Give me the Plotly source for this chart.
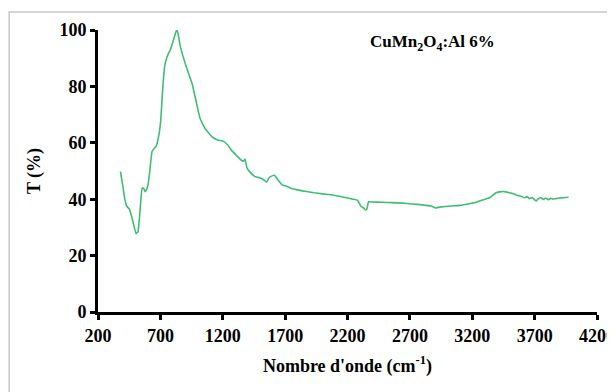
import plotly.graph_objects as go

wavenumber = [380, 398, 415, 430, 452, 475, 505, 521, 537, 553, 565, 577, 590, 601, 615, 633, 650, 665, 685, 703, 720, 734,
              750, 766, 780, 797, 812, 829, 840, 860, 900, 954, 990, 1018, 1060, 1112, 1160, 1206, 1240, 1269, 1310, 1347,
              1365, 1379, 1395, 1420, 1459, 1480, 1505, 1530, 1552, 1570, 1583, 1615, 1640, 1678, 1700, 1741, 1800, 1860,
              1930, 2000, 2086, 2160, 2244, 2281, 2306, 2330, 2344, 2355, 2369, 2400, 2480, 2557, 2640, 2715, 2800, 2870,
              2904, 2940, 3029, 3100, 3186, 3240, 3281, 3340, 3390, 3420, 3454, 3490, 3530, 3560, 3595, 3620, 3640, 3657,
              3680, 3700, 3714, 3730, 3751, 3770, 3790, 3810, 3830, 3847, 3870, 3900, 3930, 3972]
transmittance = [49.8, 45.0, 40.0, 37.5, 36.5, 33.0, 27.8, 28.5, 36.0, 43.8, 44.0, 42.7, 43.5, 45.0, 50.0, 56.9, 58.0, 58.7, 62.0, 68.0, 80.0, 87.0,
                 90.0, 91.8, 93.0, 95.3, 97.5, 100.0, 99.0, 94.2, 88.0, 81.0, 74.0, 68.7, 65.0, 62.2, 61.0, 60.5, 59.2, 57.4, 55.5, 53.9,
                 53.5, 54.2, 51.0, 49.5, 48.0, 47.8, 47.4, 46.8, 46.0, 47.5, 48.0, 48.5, 47.0, 45.0, 44.8, 44.0, 43.3, 42.8,
                 42.3, 41.9, 41.5, 40.8, 40.0, 39.6, 37.6, 36.8, 36.2, 36.5, 39.1, 39.0, 38.9, 38.8, 38.6, 38.3, 38.0, 37.6,
                 36.9, 37.2, 37.6, 37.8, 38.5, 39.0, 39.7, 40.5, 42.3, 42.6, 42.7, 42.4, 41.9, 41.4, 41.0, 40.5, 40.9, 40.2,
                 40.6, 39.8, 39.4, 40.2, 40.5, 39.9, 40.4, 39.8, 40.3, 40.0, 40.2, 40.4, 40.5, 40.7]

x_ticks = [200, 700, 1200, 1700, 2200, 2700, 3200, 3700, 4200]
y_ticks = [0, 20, 40, 60, 80, 100]

font_family = "Liberation Serif, Times New Roman, serif"

fig = go.Figure()
fig.add_trace(go.Scatter(x=wavenumber, y=transmittance, mode="lines",
                         line=dict(color="#3dbf73", width=1.6, shape="spline", smoothing=0.3),
                         showlegend=False, hoverinfo="skip"))

fig.update_layout(
    width=615, height=392,
    margin=dict(l=90, r=26, t=22, b=88, autoexpand=False),
    paper_bgcolor="white", plot_bgcolor="white",
    font=dict(family=font_family, color="black"),
    xaxis=dict(range=[200, 4200], tickvals=x_ticks, ticktext=["<b>%d</b>" % v for v in x_ticks],
               automargin=False,
               showgrid=False, zeroline=False, showline=True, linecolor="black", linewidth=3,
               ticks="outside", ticklen=5, tickwidth=3, tickcolor="black",
               tickfont=dict(family=font_family, size=18),
               title=dict(text="<b>Nombre d'onde (cm<sup>-1</sup>)</b>", font=dict(family=font_family, size=18))),
    yaxis=dict(range=[0, 100], tickvals=y_ticks, ticktext=["<b>%d</b>" % v for v in y_ticks],
               automargin=False,
               showgrid=False, zeroline=False, showline=True, linecolor="black", linewidth=3,
               ticks="outside", ticklen=5, tickwidth=3, tickcolor="black",
               tickfont=dict(family=font_family, size=18),
               title=dict(text="<b>T (%)</b>", font=dict(family=font_family, size=18))),
    shapes=[dict(type="rect", xref="paper", yref="paper", x0=-0.178, x1=1.08, y0=-0.35, y1=1.064,
                 line=dict(color="#c8c8c8", width=1.5), fillcolor="rgba(0,0,0,0)", layer="below")],
    annotations=[dict(text="<b>CuMn<sub>2</sub>O<sub>4</sub>:Al 6%</b>", xref="paper", yref="paper",
                      x=0.67, y=0.955, xanchor="center", yanchor="middle", showarrow=False,
                      font=dict(family=font_family, size=17, color="black"))],
)

fig.write_html("out.html")
